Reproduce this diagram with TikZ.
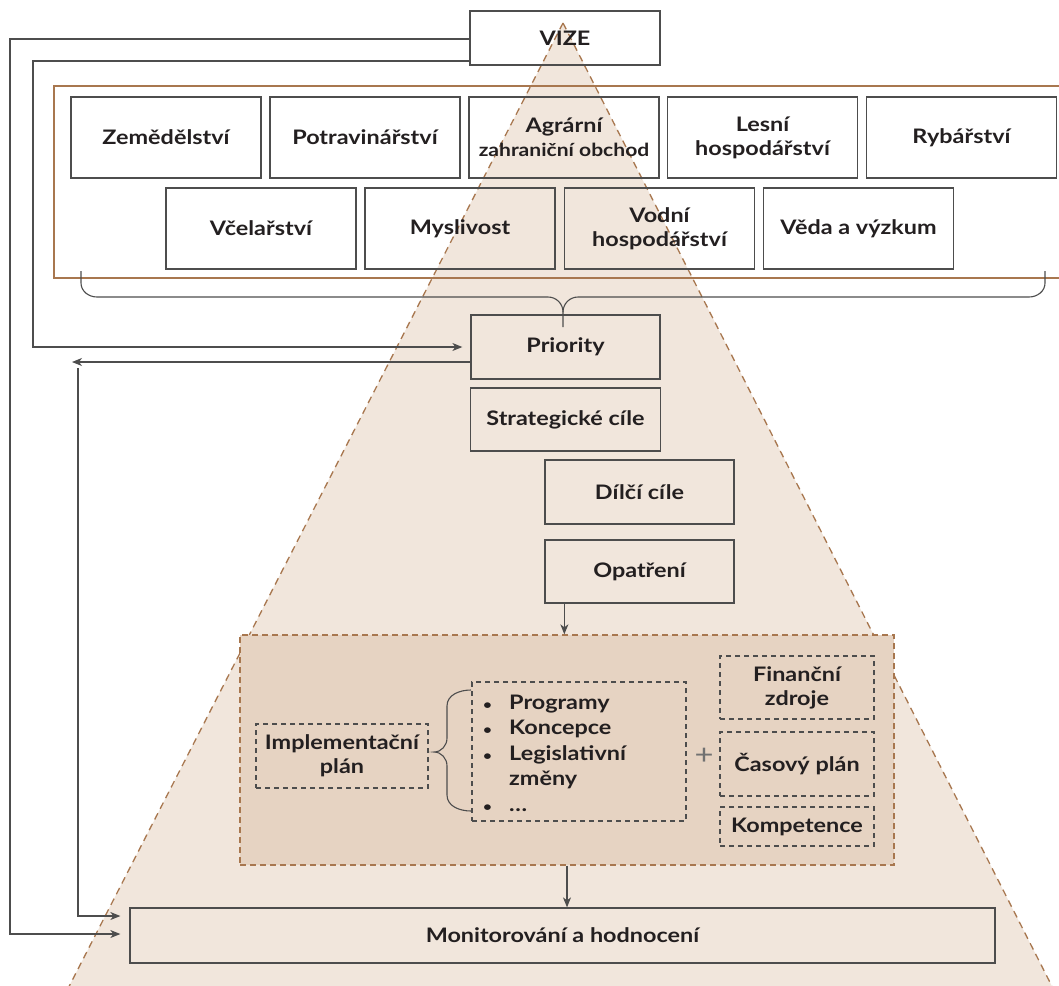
\documentclass[tikz,border=0pt]{standalone}
\usepackage{fontspec}
\setmainfont{Lato}[FakeStretch=1.17]
\usetikzlibrary{arrows.meta}
\definecolor{tri}{HTML}{F1E6DC}
\definecolor{implfill}{HTML}{E6D3C2}
\definecolor{brn}{HTML}{A8774F}
\definecolor{bx}{HTML}{4D4D4D}
\definecolor{txt}{HTML}{231F20}
\newcommand{\bul}{\makebox[27pt][l]{\hspace{1pt}\fontsize{13}{13}\selectfont •}}
\begin{document}
\begin{tikzpicture}[x=1pt,y=-1pt,
  font=\fontsize{20}{24}\selectfont\bfseries, text=txt,
  sbox/.style={draw=bx, line width=1.3pt, inner sep=0pt, align=center},
  dbox/.style={draw=bx, line width=1.2pt, dash pattern=on 5pt off 4pt, inner sep=0pt, align=center},
  conn/.style={draw=bx, line width=1.1pt},
  arr/.style={conn, -{Stealth[length=10pt,width=8pt,inset=3pt]}},
  row/.style={sbox, minimum width=190pt, minimum height=81pt}]
\useasboundingbox (0,0) rectangle (1059,985);
\fill[white] (0,0) rectangle (1059,985);
% pyramid
\begin{scope}
\clip (0,0) rectangle (1059,985);
\path[fill=tri, draw=brn, line width=1.3pt, dash pattern=on 7pt off 5pt]
  (563,23) -- (1064,1010) -- (57,1010) -- cycle;
\end{scope}
% sector frame
\draw[brn, line width=2pt] (1062,86) -- (54,86) -- (54,278) -- (1062,278);
% row 1
\node[row] (zem) at (166,137.5) {Zemědělství};
\node[row] (pot) at (365,137.5) {Potravinářství};
\node[row] (agr) at (564,137.5) {Agrární\\{\fontsize{18}{24}\selectfont zahraniční obchod}};
\node[row] (les) at (762.5,137.5) {Lesní\\hospodářství};
\node[row] (ryb) at (961.5,137.5) {Rybářství};
% row 2
\node[row] (vce) at (261,228.5) {Včelařství};
\node[row] (mys) at (460,228.5) {Myslivost};
\node[row] (vod) at (659.5,228.5) {Vodní\\hospodářství};
\node[row] (ved) at (858.5,228.5) {Věda a výzkum};
% main chain
\node[sbox, minimum width=190pt, minimum height=54pt] (vize) at (565,38) {VIZE};
\node[sbox, minimum width=189pt, minimum height=64pt] (prio) at (565.5,347) {Priority};
\node[sbox, minimum width=190pt, minimum height=63pt] (strat) at (565.5,419.5) {Strategické cíle};
\node[sbox, minimum width=189pt, minimum height=64pt] (dilci) at (639.5,492) {Dílčí cíle};
\node[sbox, minimum width=189pt, minimum height=63pt] (opat) at (639.5,571.5) {Opatření};
% implementation region
\node[fill=implfill, draw=brn, line width=1.4pt, dash pattern=on 6pt off 4pt,
      minimum width=654pt, minimum height=230pt, inner sep=0pt] (impl) at (567,750) {};
\node[dbox, minimum width=172pt, minimum height=64pt] (iplan) at (342,756) {Implementační\\plán};
\node[dbox, minimum width=214pt, minimum height=139pt] (list) at (579,751.5) {};
\node[anchor=west, align=left, inner sep=0pt, font=\fontsize{20}{25.5}\selectfont\bfseries]
  (items) at (482,753) {\bul Programy\\\bul Koncepce\\\bul Legislativní\\\makebox[27pt][l]{}změny\\\bul …};
\node[dbox, minimum width=154pt, minimum height=63pt] (fin) at (797,687.5) {Finanční\\zdroje};
\node[dbox, minimum width=154pt, minimum height=64pt] (cas) at (797,764) {Časový plán};
\node[dbox, minimum width=154pt, minimum height=39pt] (komp) at (797,826.5) {Kompetence};
\node[text=bx!80, font=\fontsize{28}{28}\selectfont, inner sep=0pt] (plus) at (704,756) {+};
% brace of list
\draw[conn] (471,690) to[out=180,in=90] (447,706) -- (447,738) to[out=-90,in=0] (434,752)
  to[out=0,in=90] (447,766) -- (447,795) to[out=-90,in=180] (471,811);
% monitor
\node[sbox, minimum width=865pt, minimum height=55pt] (mon) at (562.5,935.5) {Monitorování a hodnocení};
% big brace
\draw[conn] (81,271) -- (81,283) to[out=-90,in=180] (97,297) -- (548,297) to[out=0,in=90] (563,312) -- (563,327);
\draw[conn] (1045,271) -- (1045,283) to[out=-90,in=0] (1029,297) -- (578,297) to[out=180,in=90] (563,312);
% connectors
\coordinate (cend) at (72,362);
\coordinate (dstart) at (78,368);
\draw[arr, shorten >=9pt] ([yshift=-1pt]vize.west) -| (10,934) -- (mon.west |- 0,934);
\draw[arr, shorten >=8pt] ([yshift=-23pt]vize.west) -| (33,347) -- (prio.west);
\draw[arr] ([yshift=-15pt]prio.west) -- (cend);
\draw[arr, shorten >=9pt] (dstart) |- (mon.west |- 0,916);
\draw[arr] ([xshift=20pt]opat.south west) -- ([xshift=20pt]opat.south west |- impl.north);
\draw[arr] (impl.south) -- (mon.north -| impl.south);
\end{tikzpicture}
\end{document}
